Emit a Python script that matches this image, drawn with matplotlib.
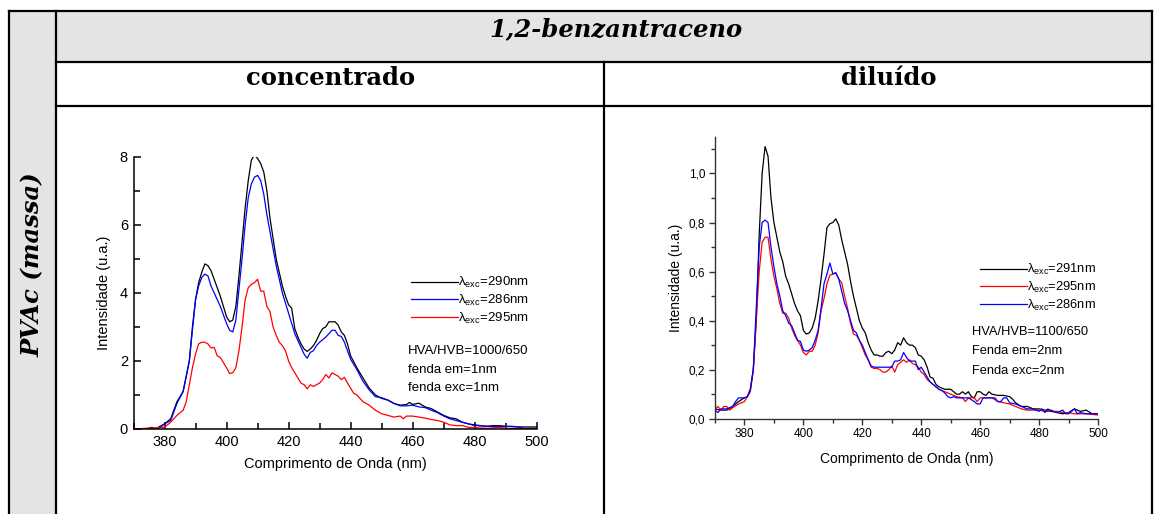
import matplotlib.pyplot as plt
from matplotlib.ticker import MultipleLocator, FuncFormatter
from matplotlib.patches import Rectangle

plt.rcParams['font.family'] = ['Liberation Sans', 'DejaVu Sans']
plt.rcParams['mathtext.fontset'] = 'custom'
plt.rcParams['mathtext.rm'] = 'Liberation Sans'

# ---- concentrado: emission spectra (u.a.) ----
wl_c290 = [370, 374, 376, 377, 378, 380, 382, 384, 386, 388, 389, 390, 391, 392, 393, 394, 395, 396,
           398, 400, 401, 402, 403, 404, 405, 406, 407, 408, 409, 410, 411, 412, 413, 414, 415, 416,
           417, 418, 419, 420, 421, 422, 423, 424, 425, 426, 427, 428, 429, 430, 431, 432, 433, 434,
           435, 436, 437, 438, 439, 440, 442, 444, 446, 448, 450, 452, 454, 456, 458, 459, 460, 462,
           464, 466, 468, 470, 472, 474, 476, 478, 480, 482, 484, 486, 488, 490, 492, 494, 496, 500]
int_c290 = [0.0, 0.0, 0.05, 0.0, 0.05, 0.15, 0.3, 0.8, 1.1, 2.0, 3.0, 3.8, 4.3, 4.6, 4.85, 4.8, 4.65, 4.4,
            3.9, 3.3, 3.15, 3.2, 3.6, 4.5, 5.5, 6.5, 7.3, 7.9, 8.05, 7.95, 7.8, 7.55, 7.0, 6.2, 5.6, 5.0,
            4.6, 4.2, 3.9, 3.65, 3.55, 2.95, 2.7, 2.5, 2.35, 2.28, 2.35, 2.45, 2.6, 2.8, 2.95, 3.0, 3.15, 3.15,
            3.15, 3.05, 2.85, 2.75, 2.5, 2.15, 1.8, 1.5, 1.2, 1.0, 0.9, 0.85, 0.75, 0.7, 0.72, 0.78, 0.72, 0.76,
            0.65, 0.6, 0.5, 0.4, 0.33, 0.3, 0.2, 0.15, 0.12, 0.1, 0.08, 0.1, 0.1, 0.08, 0.07, 0.06, 0.06, 0.06]

wl_c286 = [370, 378, 380, 382, 384, 386, 388, 390, 391, 392, 393, 394, 395, 396, 398, 400, 401, 402, 403,
           404, 405, 406, 407, 408, 409, 410, 411, 412, 413, 414, 415, 416, 417, 418, 419, 420, 421, 422,
           423, 424, 425, 426, 427, 428, 429, 430, 432, 434, 435, 436, 437, 438, 440, 442, 444, 446, 448,
           450, 452, 454, 456, 458, 460, 462, 464, 466, 468, 470, 472, 474, 476, 478, 480, 484, 488, 492,
           494, 496, 500]
int_c286 = [0.0, 0.0, 0.15, 0.25, 0.75, 1.1, 2.0, 3.8, 4.2, 4.45, 4.55, 4.5, 4.2, 4.0, 3.6, 3.1, 2.9, 2.85, 3.2,
            4.1, 5.0, 6.0, 6.8, 7.2, 7.4, 7.45, 7.3, 6.9, 6.3, 5.8, 5.3, 4.8, 4.4, 4.0, 3.7, 3.4, 3.1, 2.8,
            2.6, 2.4, 2.2, 2.08, 2.25, 2.3, 2.45, 2.55, 2.7, 2.9, 2.9, 2.75, 2.72, 2.55, 2.05, 1.75, 1.4, 1.15, 0.95,
            0.92, 0.85, 0.75, 0.68, 0.68, 0.7, 0.65, 0.63, 0.55, 0.48, 0.38, 0.3, 0.25, 0.2, 0.15, 0.1, 0.08, 0.07, 0.08,
            0.06, 0.02, 0.02]

wl_c295 = [370, 380, 382, 384, 386, 387, 388, 389, 390, 391, 392, 393, 394, 395, 396, 397, 398, 399, 400,
           401, 402, 403, 404, 405, 406, 407, 408, 409, 410, 411, 412, 413, 414, 415, 416, 417, 418, 419,
           420, 421, 422, 423, 424, 425, 426, 427, 428, 429, 430, 431, 432, 433, 434, 435, 436, 437, 438,
           439, 440, 441, 442, 444, 446, 448, 450, 452, 454, 456, 457, 458, 460, 462, 464, 466, 468, 470,
           472, 474, 476, 478, 480, 484, 488, 490, 500]
int_c295 = [0.0, 0.05, 0.2, 0.4, 0.55, 0.8, 1.3, 1.8, 2.2, 2.5, 2.55, 2.55, 2.5, 2.38, 2.4, 2.15, 2.1, 1.95, 1.8,
            1.63, 1.65, 1.8, 2.3, 3.0, 3.8, 4.15, 4.25, 4.3, 4.4, 4.05, 4.05, 3.6, 3.45, 3.0, 2.75, 2.55, 2.45, 2.3,
            2.0, 1.8, 1.65, 1.5, 1.35, 1.3, 1.18, 1.3, 1.25, 1.3, 1.35, 1.45, 1.6, 1.5, 1.65, 1.6, 1.55, 1.45, 1.52,
            1.35, 1.2, 1.05, 1.0, 0.8, 0.7, 0.55, 0.45, 0.4, 0.35, 0.38, 0.3, 0.38, 0.38, 0.35, 0.32, 0.28, 0.25, 0.2,
            0.12, 0.1, 0.1, 0.05, 0.04, 0.02, 0.05, 0.02, 0.0]

# ---- diluído: emission spectra (u.a.) ----
wl_d291 = [370, 372, 374, 376, 378, 380, 381, 382, 383, 384, 385, 386, 387, 388, 389, 390, 391, 392, 393,
           394, 395, 396, 397, 398, 399, 400, 401, 402, 403, 404, 405, 406, 407, 408, 409, 410, 411, 412,
           413, 414, 415, 416, 417, 418, 419, 420, 421, 422, 423, 424, 425, 426, 427, 428, 429, 430, 431,
           432, 433, 434, 435, 436, 437, 438, 439, 440, 441, 442, 443, 444, 445, 446, 447, 448, 450, 452,
           453, 454, 455, 456, 457, 458, 459, 460, 461, 462, 463, 464, 466, 468, 470, 471, 472, 474, 476,
           478, 480, 482, 484, 486, 488, 490, 492, 494, 496, 498, 500]
int_d291 = [0.04, 0.035, 0.035, 0.05, 0.07, 0.085, 0.09, 0.12, 0.2, 0.4, 0.75, 1.0, 1.11, 1.07, 0.9, 0.8, 0.74, 0.68, 0.64,
            0.58, 0.55, 0.51, 0.47, 0.44, 0.42, 0.36, 0.345, 0.35, 0.37, 0.41, 0.48, 0.57, 0.67, 0.78, 0.795, 0.8, 0.815, 0.79,
            0.73, 0.68, 0.63, 0.56, 0.5, 0.45, 0.4, 0.37, 0.35, 0.31, 0.28, 0.26, 0.26, 0.255, 0.255, 0.27, 0.275, 0.265, 0.28,
            0.31, 0.3, 0.33, 0.31, 0.3, 0.3, 0.29, 0.26, 0.255, 0.24, 0.21, 0.17, 0.165, 0.14, 0.13, 0.125, 0.12, 0.12, 0.1,
            0.1, 0.11, 0.1, 0.11, 0.09, 0.085, 0.11, 0.11, 0.1, 0.095, 0.11, 0.1, 0.095, 0.095, 0.09, 0.08, 0.065, 0.05, 0.05,
            0.04, 0.04, 0.035, 0.035, 0.025, 0.02, 0.025, 0.04, 0.03, 0.035, 0.02, 0.02]

wl_d295 = [370, 371, 372, 373, 374, 375, 376, 378, 379, 380, 381, 382, 383, 384, 385, 386, 387, 388, 389,
           390, 391, 392, 393, 394, 395, 396, 397, 398, 399, 400, 401, 402, 403, 404, 405, 406, 407, 408,
           409, 410, 411, 412, 413, 414, 415, 416, 417, 418, 419, 420, 421, 422, 423, 424, 425, 426, 427,
           428, 429, 430, 431, 432, 433, 434, 435, 436, 437, 438, 439, 440, 441, 442, 443, 444, 445, 446,
           448, 450, 452, 454, 455, 456, 458, 459, 460, 462, 464, 466, 468, 470, 472, 474, 476, 478, 480,
           482, 484, 486, 488, 490, 492, 494, 496, 500]
int_d295 = [0.04, 0.05, 0.035, 0.05, 0.05, 0.035, 0.045, 0.06, 0.065, 0.07, 0.09, 0.11, 0.2, 0.4, 0.6, 0.72, 0.74, 0.74, 0.65,
            0.58, 0.53, 0.47, 0.43, 0.43, 0.41, 0.37, 0.34, 0.32, 0.3, 0.27, 0.26, 0.275, 0.275, 0.3, 0.35, 0.44, 0.49, 0.55,
            0.585, 0.59, 0.595, 0.57, 0.555, 0.5, 0.45, 0.39, 0.345, 0.34, 0.32, 0.29, 0.26, 0.24, 0.21, 0.205, 0.205, 0.2, 0.19,
            0.19, 0.2, 0.215, 0.19, 0.22, 0.23, 0.24, 0.23, 0.24, 0.225, 0.22, 0.21, 0.19, 0.18, 0.16, 0.15, 0.14, 0.13, 0.12,
            0.11, 0.1, 0.09, 0.085, 0.07, 0.085, 0.085, 0.07, 0.085, 0.085, 0.085, 0.07, 0.065, 0.06, 0.05, 0.04, 0.035, 0.035, 0.035,
            0.03, 0.03, 0.03, 0.025, 0.025, 0.02, 0.02, 0.02, 0.015]

wl_d286 = [370, 371, 372, 374, 376, 377, 378, 380, 381, 382, 383, 384, 385, 386, 387, 388, 389, 390, 391,
           392, 393, 394, 395, 396, 397, 398, 399, 400, 401, 402, 403, 404, 405, 406, 407, 408, 409, 410,
           411, 412, 413, 414, 415, 416, 417, 418, 419, 420, 421, 422, 423, 424, 426, 428, 430, 431, 432,
           433, 434, 435, 436, 437, 438, 439, 440, 441, 442, 443, 444, 445, 446, 447, 448, 449, 450, 451,
           452, 454, 456, 458, 459, 460, 461, 463, 465, 466, 467, 468, 469, 470, 472, 474, 476, 478, 480,
           481, 482, 483, 484, 486, 488, 489, 490, 492, 493, 494, 496, 500]
int_d286 = [0.035, 0.025, 0.04, 0.04, 0.05, 0.07, 0.085, 0.085, 0.09, 0.12, 0.2, 0.45, 0.7, 0.8, 0.81, 0.8, 0.7, 0.62, 0.55,
            0.5, 0.44, 0.42, 0.39, 0.38, 0.35, 0.32, 0.315, 0.28, 0.275, 0.28, 0.29, 0.32, 0.36, 0.45, 0.55, 0.59, 0.635, 0.59,
            0.595, 0.57, 0.52, 0.47, 0.44, 0.4, 0.36, 0.35, 0.32, 0.3, 0.27, 0.24, 0.215, 0.21, 0.21, 0.21, 0.21, 0.235, 0.235,
            0.24, 0.27, 0.25, 0.235, 0.235, 0.235, 0.2, 0.21, 0.19, 0.17, 0.15, 0.14, 0.13, 0.12, 0.115, 0.105, 0.09, 0.085, 0.09,
            0.085, 0.085, 0.085, 0.07, 0.06, 0.06, 0.085, 0.085, 0.085, 0.07, 0.07, 0.085, 0.085, 0.065, 0.06, 0.05, 0.04, 0.04, 0.03,
            0.04, 0.025, 0.04, 0.03, 0.025, 0.035, 0.02, 0.02, 0.04, 0.02, 0.025, 0.02, 0.02]

x_ticks = [380, 400, 420, 440, 460, 480, 500]
notes_conc = ['HVA/HVB=1000/650', 'fenda em=1nm', 'fenda exc=1nm']
notes_dil = ['HVA/HVB=1100/650', 'Fenda em=2nm', 'Fenda exc=2nm']

W, H = 1161, 514
fig = plt.figure(figsize=(W / 100, H / 100), dpi=100)


def px_box(x0, y0, x1, y1):
    # pixel box (top-left origin) -> figure fraction rect
    return [x0 / W, 1 - y1 / H, (x1 - x0) / W, (y1 - y0) / H]


# ---- table frame ----
bg = fig.add_axes([0, 0, 1, 1])
bg.set_xlim(0, W)
bg.set_ylim(H, 0)
bg.axis('off')
grey = '#e4e4e4'
bg.add_patch(Rectangle((9, 11), 47, H - 11, facecolor=grey, edgecolor='none'))
bg.add_patch(Rectangle((56, 11), 1152 - 56, 51, facecolor=grey, edgecolor='none'))
lk = dict(color='black', lw=1.6, solid_capstyle='projecting')
bg.plot([9, 1152], [11, 11], **lk)
bg.plot([9, 9], [11, H], **lk)
bg.plot([56, 56], [11, H], **lk)
bg.plot([1152, 1152], [11, H], **lk)
bg.plot([56, 1152], [62, 62], **lk)
bg.plot([56, 1152], [106, 106], **lk)
bg.plot([604, 604], [62, H], **lk)

head = dict(family='DejaVu Serif', weight='bold', fontsize=17.5, ha='center', va='center')
bg.text(616, 29, '1,2-benzantraceno', style='italic', **head)
bg.text(331, 78, 'concentrado', **head)
bg.text(889, 78, 'diluído', **head)
bg.text(33, 265, 'PVAc (massa)', style='italic', rotation=90, **head)


def lam(nm):
    return r'$\mathregular{\lambda_{exc}}$=' + nm


# ---- concentrado ----
ax1 = fig.add_axes(px_box(133.5, 156.7, 536.7, 429))
ax1.plot(wl_c290, int_c290, color='black', lw=0.9, label=lam('290nm'))
ax1.plot(wl_c286, int_c286, color='#0000ff', lw=0.9, label=lam('286nm'))
ax1.plot(wl_c295, int_c295, color='#ff0000', lw=0.9, label=lam('295nm'))
ax1.set_xlim(370, 500)
ax1.set_ylim(0, 8)
ax1.set_xticks(x_ticks)
ax1.yaxis.set_major_locator(MultipleLocator(2))
ax1.xaxis.set_minor_locator(MultipleLocator(10))
ax1.yaxis.set_minor_locator(MultipleLocator(1))
ax1.tick_params(which='both', direction='in', width=1.1, labelsize=10.5, pad=4)
ax1.tick_params(which='major', length=5)
ax1.tick_params(which='minor', length=4)
for s in ['top', 'right']:
    ax1.spines[s].set_visible(False)
for s in ['left', 'bottom']:
    ax1.spines[s].set_linewidth(1.1)
ax1.set_xlabel('Comprimento de Onda (nm)', fontsize=10.5, labelpad=6)
ax1.set_ylabel('Intensidade (u.a.)', fontsize=10.5, labelpad=6)
ax1.legend(loc='upper left', bbox_to_anchor=(0.688, 0.565), frameon=False, fontsize=9.5,
           handlelength=3.6, handletextpad=0.0, labelspacing=0.2, borderpad=0, borderaxespad=0)
for i, t in enumerate(notes_conc):
    ax1.text(0.681, 0.286 - 0.068 * i, t, transform=ax1.transAxes, fontsize=9.5, va='center')

# ---- diluído ----
ax2 = fig.add_axes(px_box(715, 136.7, 1098, 418.7))
ax2.plot(wl_d291, int_d291, color='black', lw=0.9, label=lam('291nm'))
ax2.plot(wl_d295, int_d295, color='#ff0000', lw=0.9, label=lam('295nm'))
ax2.plot(wl_d286, int_d286, color='#0000ff', lw=0.9, label=lam('286nm'))
ax2.set_xlim(370, 500)
ax2.set_ylim(0, 1.15)
ax2.set_xticks(x_ticks)
ax2.yaxis.set_major_locator(MultipleLocator(0.2))
ax2.xaxis.set_minor_locator(MultipleLocator(10))
ax2.yaxis.set_minor_locator(MultipleLocator(0.1))
ax2.yaxis.set_major_formatter(FuncFormatter(lambda v, p: f'{v:.1f}'.replace('.', ',')))
ax2.tick_params(which='both', direction='out', width=1.0, labelsize=8.5, color='#333333', pad=3)
ax2.tick_params(which='major', length=4)
ax2.tick_params(which='minor', length=3)
for s in ['top', 'right']:
    ax2.spines[s].set_visible(False)
for s in ['left', 'bottom']:
    ax2.spines[s].set_linewidth(1.0)
    ax2.spines[s].set_color('#333333')
ax2.set_xlabel('Comprimento de Onda (nm)', fontsize=10, labelpad=8)
ax2.set_ylabel('Intensidade (u.a.)', fontsize=10, labelpad=4)
ax2.legend(loc='upper left', bbox_to_anchor=(0.693, 0.555), frameon=False, fontsize=9.3,
           handlelength=3.6, handletextpad=0.0, labelspacing=0.2, borderpad=0, borderaxespad=0)
for i, t in enumerate(notes_dil):
    ax2.text(0.67, (418.7 - 332) / 282 - (19.3 / 282) * i, t, transform=ax2.transAxes,
             fontsize=9.3, va='center')

fig.savefig('out.png', dpi=100)
